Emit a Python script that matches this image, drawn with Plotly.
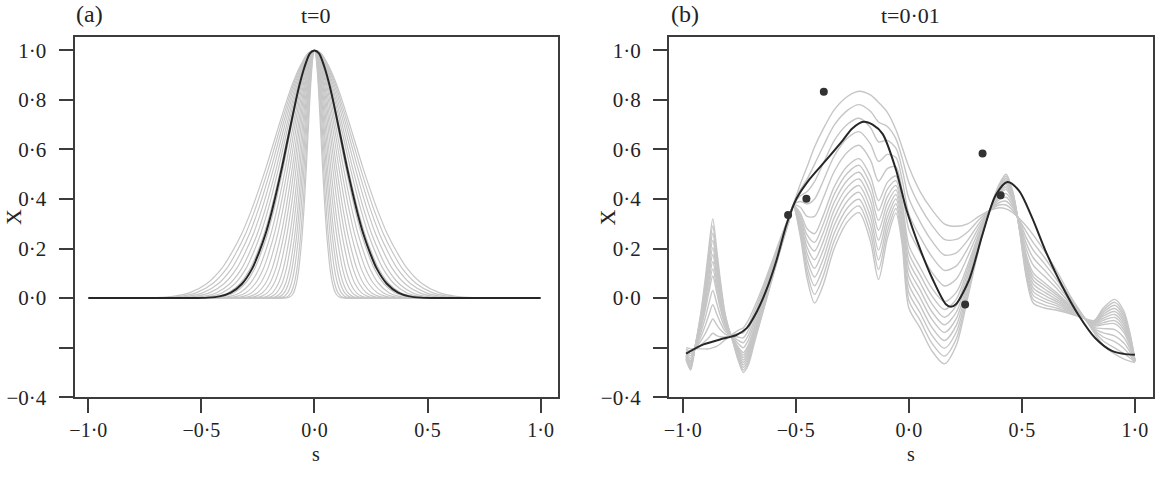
import plotly.graph_objects as go

# ---------------- Panel (a): t=0 ----------------
a_black_s = [-1.0, -0.55, -0.47, -0.42, -0.37, -0.32, -0.275, -0.247, -0.216, -0.19,
             -0.17, -0.143, -0.125, -0.107, -0.084, -0.065, -0.045, -0.02, 0.0, 0.02,
             0.045, 0.065, 0.084, 0.107, 0.125, 0.143, 0.17, 0.19, 0.216, 0.247,
             0.275, 0.32, 0.37, 0.42, 0.47, 0.55, 1.0]
a_black_y = [0.0, 0.0, 0.002, 0.007, 0.022, 0.058, 0.12, 0.18, 0.26, 0.345,
             0.42, 0.53, 0.61, 0.69, 0.79, 0.865, 0.93, 0.988, 1.0, 0.988,
             0.93, 0.865, 0.79, 0.69, 0.61, 0.53, 0.42, 0.345, 0.26, 0.18,
             0.12, 0.058, 0.022, 0.007, 0.002, 0.0, 0.0]
# width of each grey curve relative to the black one
a_gray_width_ratio = [1.49, 1.41, 1.33, 1.25, 1.17, 1.10, 1.03, 0.96, 0.89, 0.82,
                      0.75, 0.68, 0.62, 0.56, 0.50, 0.45, 0.40, 0.36, 0.32, 0.28, 0.25]

# ---------------- Panel (b): t=0.01 ----------------
b_s = [-0.985, -0.965, -0.946, -0.92, -0.90, -0.885, -0.867, -0.85, -0.834, -0.815,
       -0.80, -0.78, -0.755, -0.732, -0.71, -0.68, -0.64, -0.60, -0.56, -0.53,
       -0.51, -0.48, -0.45, -0.417, -0.38, -0.33, -0.27, -0.22, -0.17, -0.134,
       -0.095, -0.057, -0.03, 0.0, 0.05, 0.10, 0.157, 0.21, 0.26, 0.31,
       0.36, 0.40, 0.43, 0.46, 0.49, 0.52, 0.55, 0.60, 0.66, 0.72,
       0.77, 0.82, 0.86, 0.91, 0.95, 0.98, 1.0]

b_curve_0 = [-0.20, -0.205, -0.205, -0.205, -0.205, -0.205, -0.20, -0.195, -0.185, -0.17,
             -0.16, -0.145, -0.13, -0.12, -0.09, -0.03, 0.06, 0.16, 0.26, 0.33,
             0.38, 0.46, 0.53, 0.61, 0.68, 0.76, 0.815, 0.835, 0.82, 0.79,
             0.75, 0.68, 0.61, 0.53, 0.43, 0.36, 0.30, 0.29, 0.30, 0.33,
             0.355, 0.365, 0.36, 0.345, 0.32, 0.29, 0.255, 0.19, 0.10, 0.0,
             -0.07, -0.14, -0.19, -0.225, -0.245, -0.255, -0.26]
b_curve_1 = [-0.206, -0.214, -0.204, -0.189, -0.173, -0.160, -0.142, -0.151, -0.156, -0.157,
             -0.154, -0.148, -0.143, -0.14, -0.11, -0.046, 0.049, 0.152, 0.256, 0.328,
             0.379, 0.437, 0.48, 0.54, 0.61, 0.698, 0.759, 0.781, 0.754, 0.711,
             0.693, 0.643, 0.567, 0.467, 0.369, 0.297, 0.237, 0.237, 0.267, 0.316,
             0.356, 0.376, 0.376, 0.354, 0.314, 0.267, 0.224, 0.164, 0.083, -0.007,
             -0.071, -0.134, -0.173, -0.201, -0.223, -0.243, -0.259]
b_curve_2 = [-0.211, -0.224, -0.204, -0.173, -0.142, -0.115, -0.084, -0.107, -0.127, -0.143,
             -0.149, -0.151, -0.157, -0.16, -0.13, -0.061, 0.038, 0.144, 0.251, 0.326,
             0.378, 0.413, 0.43, 0.47, 0.54, 0.636, 0.703, 0.726, 0.689, 0.631,
             0.637, 0.605, 0.523, 0.403, 0.308, 0.233, 0.174, 0.183, 0.233, 0.301,
             0.356, 0.386, 0.391, 0.364, 0.309, 0.243, 0.194, 0.139, 0.067, -0.014,
             -0.072, -0.129, -0.157, -0.176, -0.202, -0.232, -0.258]
b_curve_3 = [-0.217, -0.233, -0.203, -0.157, -0.110, -0.070, -0.027, -0.063, -0.098, -0.130,
             -0.143, -0.153, -0.170, -0.18, -0.15, -0.077, 0.027, 0.137, 0.247, 0.323,
             0.377, 0.39, 0.38, 0.40, 0.47, 0.573, 0.647, 0.672, 0.623, 0.552,
             0.58, 0.568, 0.48, 0.34, 0.247, 0.17, 0.112, 0.13, 0.2, 0.287,
             0.357, 0.397, 0.407, 0.373, 0.303, 0.22, 0.163, 0.113, 0.05, -0.022,
             -0.073, -0.123, -0.14, -0.152, -0.18, -0.22, -0.257]
b_curve_4 = [-0.222, -0.243, -0.203, -0.141, -0.078, -0.025, 0.031, -0.019, -0.069, -0.117,
             -0.138, -0.156, -0.183, -0.20, -0.17, -0.092, 0.016, 0.129, 0.242, 0.321,
             0.376, 0.367, 0.33, 0.33, 0.40, 0.511, 0.591, 0.617, 0.558, 0.472,
             0.523, 0.530, 0.437, 0.277, 0.186, 0.107, 0.049, 0.077, 0.167, 0.272,
             0.357, 0.407, 0.422, 0.383, 0.298, 0.197, 0.133, 0.088, 0.033, -0.029,
             -0.074, -0.118, -0.123, -0.127, -0.158, -0.208, -0.256]
b_curve_5 = [-0.228, -0.252, -0.202, -0.124, -0.047, 0.020, 0.089, 0.024, -0.041, -0.103,
             -0.132, -0.159, -0.197, -0.22, -0.19, -0.108, 0.004, 0.121, 0.238, 0.319,
             0.374, 0.343, 0.28, 0.26, 0.33, 0.449, 0.534, 0.563, 0.492, 0.393,
             0.467, 0.493, 0.393, 0.213, 0.124, 0.043, -0.014, 0.023, 0.133, 0.258,
             0.358, 0.418, 0.438, 0.392, 0.292, 0.173, 0.102, 0.062, 0.017, -0.036,
             -0.076, -0.112, -0.107, -0.103, -0.137, -0.197, -0.254]
b_curve_6 = [-0.231, -0.257, -0.202, -0.116, -0.031, 0.043, 0.118, 0.046, -0.027, -0.097,
             -0.130, -0.161, -0.204, -0.23, -0.20, -0.116, -0.002, 0.117, 0.236, 0.318,
             0.374, 0.332, 0.255, 0.225, 0.295, 0.418, 0.506, 0.536, 0.460, 0.353,
             0.439, 0.474, 0.372, 0.182, 0.094, 0.012, -0.046, -0.004, 0.117, 0.251,
             0.358, 0.423, 0.446, 0.397, 0.290, 0.162, 0.087, 0.050, 0.009, -0.040,
             -0.077, -0.110, -0.099, -0.091, -0.126, -0.191, -0.254]
b_curve_7 = [-0.233, -0.262, -0.202, -0.108, -0.015, 0.065, 0.147, 0.068, -0.012, -0.090,
             -0.127, -0.162, -0.210, -0.24, -0.21, -0.123, -0.007, 0.113, 0.233, 0.317,
             0.373, 0.32, 0.23, 0.19, 0.26, 0.387, 0.478, 0.508, 0.427, 0.313,
             0.41, 0.455, 0.35, 0.15, 0.063, -0.02, -0.077, -0.03, 0.1, 0.243,
             0.358, 0.428, 0.453, 0.402, 0.287, 0.15, 0.072, 0.037, 0.0, -0.043,
             -0.077, -0.107, -0.09, -0.078, -0.115, -0.185, -0.253]
b_curve_8 = [-0.236, -0.267, -0.202, -0.100, 0.001, 0.088, 0.176, 0.090, 0.003, -0.084,
             -0.124, -0.163, -0.217, -0.25, -0.22, -0.131, -0.013, 0.110, 0.231, 0.316,
             0.373, 0.309, 0.205, 0.155, 0.225, 0.356, 0.450, 0.481, 0.394, 0.274,
             0.382, 0.437, 0.329, 0.119, 0.033, -0.052, -0.108, -0.057, 0.084, 0.236,
             0.359, 0.434, 0.461, 0.407, 0.284, 0.139, 0.057, 0.024, -0.009, -0.047,
             -0.078, -0.104, -0.082, -0.066, -0.104, -0.179, -0.253]
b_curve_9 = [-0.239, -0.271, -0.201, -0.092, 0.017, 0.110, 0.204, 0.112, 0.017, -0.077,
             -0.121, -0.164, -0.223, -0.26, -0.23, -0.139, -0.018, 0.106, 0.229, 0.314,
             0.372, 0.297, 0.18, 0.12, 0.19, 0.324, 0.422, 0.454, 0.361, 0.234,
             0.353, 0.418, 0.307, 0.087, 0.002, -0.083, -0.139, -0.083, 0.067, 0.229,
             0.359, 0.439, 0.469, 0.411, 0.281, 0.127, 0.041, 0.011, -0.017, -0.051,
             -0.078, -0.101, -0.073, -0.054, -0.093, -0.173, -0.252]
b_curve_10 = [-0.242, -0.276, -0.201, -0.084, 0.033, 0.133, 0.233, 0.134, 0.032, -0.070,
              -0.119, -0.166, -0.230, -0.27, -0.24, -0.147, -0.024, 0.102, 0.227, 0.313,
              0.372, 0.285, 0.155, 0.085, 0.155, 0.293, 0.394, 0.427, 0.329, 0.194,
              0.325, 0.400, 0.285, 0.055, -0.029, -0.115, -0.171, -0.110, 0.050, 0.222,
              0.359, 0.444, 0.477, 0.416, 0.279, 0.115, 0.026, -0.002, -0.025, -0.055,
              -0.079, -0.099, -0.065, -0.042, -0.083, -0.168, -0.252]
b_curve_11 = [-0.244, -0.281, -0.201, -0.076, 0.048, 0.155, 0.262, 0.156, 0.046, -0.063,
              -0.116, -0.167, -0.237, -0.28, -0.25, -0.154, -0.029, 0.098, 0.224, 0.312,
              0.371, 0.273, 0.13, 0.05, 0.12, 0.262, 0.366, 0.399, 0.296, 0.154,
              0.297, 0.381, 0.263, 0.023, -0.059, -0.147, -0.202, -0.137, 0.033, 0.214,
              0.359, 0.449, 0.484, 0.421, 0.276, 0.103, 0.011, -0.014, -0.033, -0.058,
              -0.079, -0.096, -0.057, -0.029, -0.072, -0.162, -0.251]
b_curve_12 = [-0.247, -0.286, -0.201, -0.068, 0.064, 0.178, 0.291, 0.178, 0.061, -0.057,
              -0.113, -0.169, -0.244, -0.29, -0.26, -0.162, -0.035, 0.094, 0.222, 0.311,
              0.371, 0.262, 0.105, 0.015, 0.085, 0.231, 0.338, 0.372, 0.263, 0.115,
              0.269, 0.362, 0.242, -0.009, -0.090, -0.179, -0.234, -0.164, 0.017, 0.207,
              0.360, 0.455, 0.492, 0.426, 0.273, 0.092, -0.005, -0.027, -0.042, -0.062,
              -0.080, -0.093, -0.049, -0.017, -0.061, -0.156, -0.251]
b_curve_13 = [-0.25, -0.29, -0.20, -0.06, 0.08, 0.20, 0.32, 0.20, 0.075, -0.05,
              -0.11, -0.17, -0.25, -0.30, -0.27, -0.17, -0.04, 0.09, 0.22, 0.31,
              0.37, 0.25, 0.08, -0.02, 0.05, 0.20, 0.31, 0.345, 0.23, 0.075,
              0.24, 0.343, 0.22, -0.04, -0.12, -0.21, -0.265, -0.19, 0.0, 0.20,
              0.36, 0.46, 0.50, 0.43, 0.27, 0.08, -0.02, -0.04, -0.05, -0.065,
              -0.08, -0.09, -0.04, -0.005, -0.05, -0.15, -0.25]

b_black_s = [-0.985, -0.908, -0.835, -0.761, -0.717, -0.673, -0.629, -0.585, -0.541, -0.497,
             -0.439, -0.365, -0.292, -0.25, -0.2, -0.16, -0.116, -0.057, -0.012, 0.047,
             0.106, 0.164, 0.186, 0.208, 0.267, 0.326, 0.384, 0.436, 0.487, 0.546,
             0.604, 0.678, 0.751, 0.824, 0.898, 0.95, 1.0]
b_black_y = [-0.224, -0.187, -0.167, -0.148, -0.121, -0.056, 0.035, 0.153, 0.297, 0.401,
             0.48, 0.558, 0.637, 0.685, 0.712, 0.70, 0.663, 0.519, 0.362, 0.205,
             0.075, -0.025, -0.035, -0.025, 0.075, 0.258, 0.415, 0.469, 0.434, 0.323,
             0.192, 0.049, -0.069, -0.161, -0.213, -0.225, -0.229]

b_obs_s = [-0.534, -0.453, -0.376, 0.249, 0.326, 0.406]
b_obs_y = [0.336, 0.401, 0.833, -0.026, 0.584, 0.415]

x_tick_vals = [-1.0, -0.5, 0.0, 0.5, 1.0]
x_tick_text = ["\u22121\u00b70", "\u22120\u00b75", "0\u00b70", "0\u00b75", "1\u00b70"]
y_tick_vals = [-0.4, -0.2, 0.0, 0.2, 0.4, 0.6, 0.8, 1.0]
y_tick_text = ["\u22120\u00b74", "", "0\u00b70", "0\u00b72", "0\u00b74", "0\u00b76", "0\u00b78", "1\u00b70"]

# ---------------- styling ----------------
W, H = 1155, 478
GRAY = "rgb(198,198,198)"
BLACK = "rgb(38,38,38)"
AXC = "rgb(60,60,60)"
TXT = "rgb(35,35,35)"
FONT = "Liberation Serif, Times New Roman, serif"

fig = go.Figure()

# panel (a) grey family
for r in a_gray_width_ratio:
    xs = [a_black_s[0]] + [s * r for s in a_black_s[1:-1]] + [a_black_s[-1]]
    fig.add_trace(go.Scatter(x=xs, y=a_black_y, mode="lines", xaxis="x", yaxis="y",
                             line=dict(color=GRAY, width=1.2, shape="spline", smoothing=0.8),
                             hoverinfo="skip"))
fig.add_trace(go.Scatter(x=a_black_s, y=a_black_y, mode="lines", xaxis="x", yaxis="y",
                         line=dict(color=BLACK, width=2, shape="spline", smoothing=0.8)))

# panel (b) grey family
b_curves = [b_curve_0, b_curve_1, b_curve_2, b_curve_3, b_curve_4, b_curve_5, b_curve_6,
            b_curve_7, b_curve_8, b_curve_9, b_curve_10, b_curve_11, b_curve_12, b_curve_13]
for c in b_curves:
    fig.add_trace(go.Scatter(x=b_s, y=c, mode="lines", xaxis="x2", yaxis="y2",
                             line=dict(color=GRAY, width=1.4, shape="spline", smoothing=0.8),
                             hoverinfo="skip"))
fig.add_trace(go.Scatter(x=b_black_s, y=b_black_y, mode="lines", xaxis="x2", yaxis="y2",
                         line=dict(color=BLACK, width=2, shape="spline", smoothing=0.8)))
fig.add_trace(go.Scatter(x=b_obs_s, y=b_obs_y, mode="markers", xaxis="x2", yaxis="y2",
                         marker=dict(color="rgb(50,50,50)", size=8)))

def xax(domain, anchor):
    return dict(domain=domain, anchor=anchor, range=[-1.061, 1.079],
                tickvals=x_tick_vals, ticktext=x_tick_text,
                ticks="outside", ticklen=14, tickwidth=2, tickcolor=AXC,
                showline=True, linewidth=2, linecolor=AXC, mirror=True,
                showgrid=False, zeroline=False, ticklabelstandoff=0,
                tickfont=dict(family=FONT, size=20, color=TXT))

def yax(anchor):
    return dict(domain=[1 - 407.7 / H, 1 - 37.7 / H], anchor=anchor, range=[-0.401, 1.055],
                tickvals=y_tick_vals, ticktext=y_tick_text,
                ticks="outside", ticklen=14, tickwidth=2, tickcolor=AXC,
                showline=True, linewidth=2, linecolor=AXC, mirror=True,
                showgrid=False, zeroline=False, ticklabelstandoff=8,
                tickfont=dict(family=FONT, size=21, color=TXT))

ax_a = [69.85 / W, 555.85 / W]
ax_b = [666.8 / W, 1152.8 / W]

fig.update_layout(
    width=W, height=H, margin=dict(l=0, r=0, t=0, b=0),
    paper_bgcolor="white", plot_bgcolor="white", showlegend=False,
    xaxis=xax(ax_a, "y"), yaxis=yax("x"),
    xaxis2=xax(ax_b, "y2"), yaxis2=yax("x2"),
)

def ann(text, px, py, size=22, angle=0, yanchor="middle"):
    fig.add_annotation(text=text, x=px / W, y=1 - py / H, xref="paper", yref="paper",
                       showarrow=False, xanchor="center", yanchor=yanchor,
                       textangle=angle, borderpad=0,
                       font=dict(family=FONT, size=size, color=TXT))

ann("(a)", 85, 14, size=24)
ann("(b)", 683, 14, size=24)
ann("t=0", (69.85 + 555.85) / 2, 16)
ann("t=0\u00b701", (666.8 + 1152.8) / 2, 16)
ann("s", (69.85 + 555.85) / 2, 478, size=20, yanchor="bottom")
ann("s", (666.8 + 1152.8) / 2, 478, size=20, yanchor="bottom")
ann("X", 8, 222.7, angle=-90)
ann("X", 605, 222.7, angle=-90)

fig.write_html("out.html")
